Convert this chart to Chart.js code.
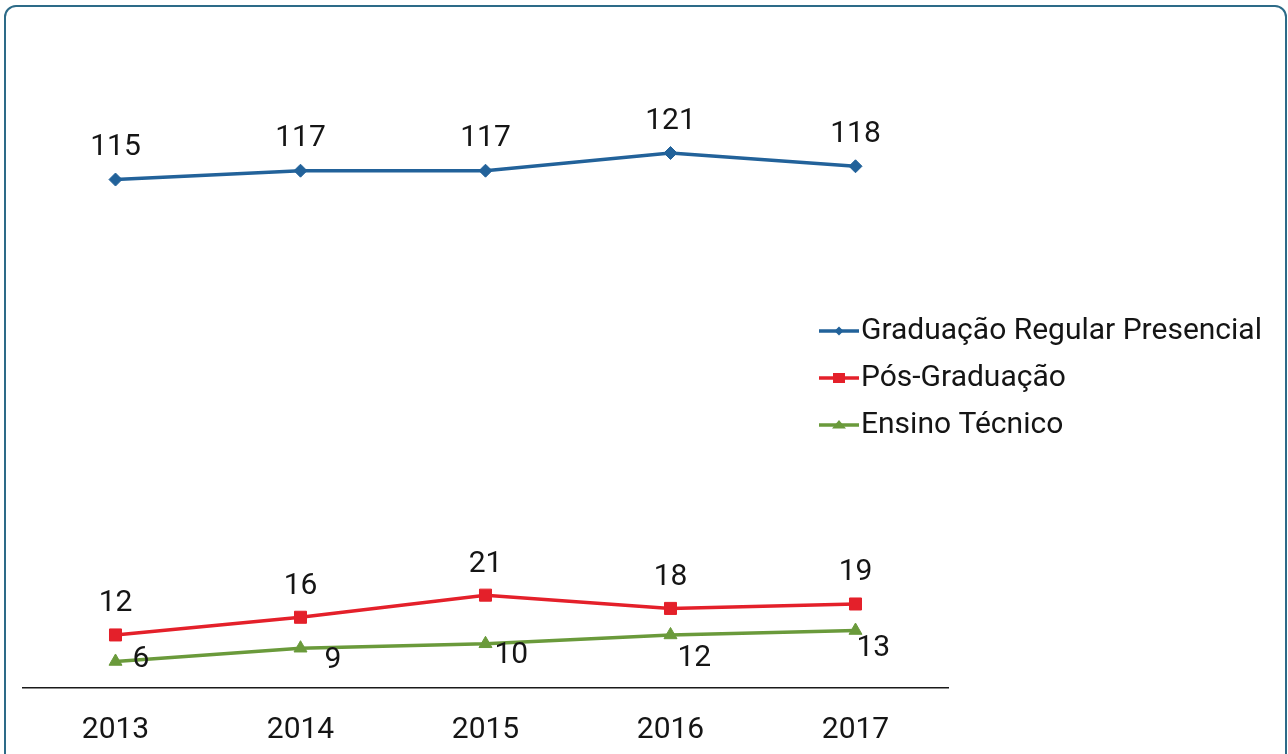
<!DOCTYPE html>
<html><head><meta charset="utf-8">
<script src="https://cdn.jsdelivr.net/npm/chart.js@4.4.0/dist/chart.umd.min.js"></script>
<style>
html,body{margin:0;padding:0;background:#fff;width:1288px;height:754px;overflow:hidden;}
#wrap{position:absolute;left:0;top:0;width:1288px;height:754px;}
#frame{position:absolute;left:4px;top:5px;width:1283px;height:800px;border:2px solid #2d6b88;border-radius:12px;box-sizing:border-box;pointer-events:none;}
canvas{position:absolute;left:0;top:0;}
</style></head>
<body><div id="wrap"><canvas id="c" width="1288" height="754"></canvas><div id="frame"></div></div>
<script>
// ---- data ----
const categories = ['2013', '2014', '2015', '2016', '2017'];
const seriesNames = ['Graduação Regular Presencial', 'Pós-Graduação', 'Ensino Técnico'];
const graduacao = [115, 117, 117, 121, 118];
const posGraduacao = [12, 16, 21, 18, 19];
const ensinoTecnico = [6, 9, 10, 12, 13];

// ---- styles ----
const colors = ['#22629a', '#e4202a', '#6a9a3b'];
const textColor = '#151515';
const numFont = '30px Roboto';
// label nudges (px) relative to each point
const labelNudges = [
  {align: 'center', dx: [0, 0, 0, 0, 0], dy: [-32, -32, -32, -32, -32]},
  {align: 'center', dx: [0, 0, 0, 0, 0], dy: [-31, -31, -31, -31, -31]},
  {align: 'left', dx: [17, 24, 9, 7, 1], dy: [-2, 12, 12, 24, 18]}
];

function legendIcon(color, kind) {
  const c = document.createElement('canvas');
  c.width = 40; c.height = 16;
  const g = c.getContext('2d');
  g.strokeStyle = color; g.lineWidth = 3.5;
  g.beginPath(); g.moveTo(0, 8); g.lineTo(40, 8); g.stroke();
  g.fillStyle = color; g.beginPath();
  if (kind === 'diamond') { g.moveTo(20, 3.5); g.lineTo(24.5, 8); g.lineTo(20, 12.5); g.lineTo(15.5, 8); }
  else if (kind === 'square') { g.rect(14, 3, 12, 10); }
  else { g.moveTo(20, 3); g.lineTo(27, 11.5); g.lineTo(13, 11.5); }
  g.closePath(); g.fill();
  return c;
}
const legendIcons = [legendIcon(colors[0], 'diamond'), legendIcon(colors[1], 'square'), legendIcon(colors[2], 'triangle')];

const valueLabels = {
  id: 'valueLabels',
  afterDatasetsDraw(chart) {
    const ctx = chart.ctx;
    ctx.save();
    ctx.font = numFont; ctx.fillStyle = textColor; ctx.textBaseline = 'middle';
    chart.data.datasets.forEach((ds, i) => {
      const meta = chart.getDatasetMeta(i);
      const n = labelNudges[i];
      ctx.textAlign = n.align;
      meta.data.forEach((pt, j) => {
        ctx.fillText(String(ds.data[j]), pt.x + n.dx[j], pt.y + n.dy[j]);
      });
    });
    ctx.restore();
  }
};

const placeLegend = {
  id: 'placeLegend',
  afterLayout(chart) {
    const lg = chart.legend;
    lg.left = 815; lg.right = 1288; lg.top = 2; lg.bottom = 754;
    lg.width = lg.right - lg.left; lg.height = lg.bottom - lg.top;
  }
};

new Chart(document.getElementById('c'), {
  type: 'line',
  data: {
    labels: categories,
    datasets: [
      {label: seriesNames[0], data: graduacao, borderColor: colors[0], backgroundColor: colors[0],
       borderWidth: 3.5, pointStyle: 'rectRot', pointRadius: 6.5, pointBorderWidth: 1, tension: 0},
      {label: seriesNames[1], data: posGraduacao, borderColor: colors[1], backgroundColor: colors[1],
       borderWidth: 3.5, pointStyle: 'rect', pointRadius: 8.5, pointBorderWidth: 1, tension: 0},
      {label: seriesNames[2], data: ensinoTecnico, borderColor: colors[2], backgroundColor: colors[2],
       borderWidth: 3.5, pointStyle: 'triangle', pointRadius: 7.5, pointBorderWidth: 1, tension: 0}
    ]
  },
  options: {
    responsive: false,
    animation: false,
    events: [],
    layout: {padding: {left: 23, right: 340, top: 69, bottom: 0}},
    scales: {
      x: {
        offset: true,
        grid: {display: false, drawTicks: false},
        border: {display: true, color: '#1a1a1a', width: 1.5},
        ticks: {color: textColor, font: {family: 'Roboto', size: 30}, padding: 24, maxRotation: 0},
        afterFit(s) { s.height = 66; }
      },
      y: {
        display: false, min: 0, max: 140
      }
    },
    plugins: {
      tooltip: {enabled: false},
      legend: {
        position: 'chartArea',
        align: 'center',
        labels: {
          color: textColor,
          font: {family: 'Roboto', size: 30},
          usePointStyle: true,
          pointStyleWidth: 14,
          padding: 17,
          generateLabels(chart) {
            const items = Chart.defaults.plugins.legend.labels.generateLabels(chart);
            items.forEach((it, i) => { it.pointStyle = legendIcons[i]; });
            return items;
          }
        }
      }
    }
  },
  plugins: [valueLabels, placeLegend]
});
</script>
</body></html>
